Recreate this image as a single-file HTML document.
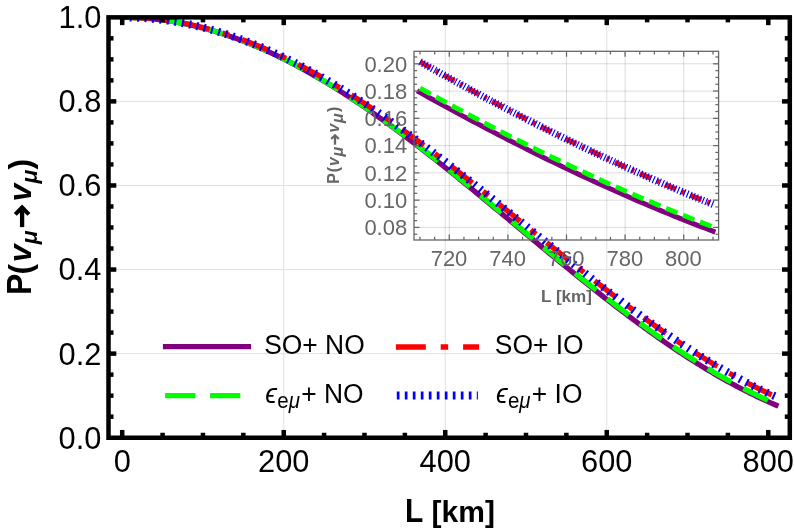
<!DOCTYPE html><html><head><meta charset="utf-8"><style>html,body{margin:0;padding:0;background:#fff}svg{display:block;will-change:transform}text{font-family:"Liberation Sans",sans-serif}</style></head><body>
<svg width="794" height="529" viewBox="0 0 794 529">
<rect width="794" height="529" fill="#fff"/>
<defs><clipPath id="mc"><rect x="108.50" y="17.35" width="681.30" height="420.40"/></clipPath>
<clipPath id="ic"><rect x="414.00" y="51.30" width="304.60" height="188.70"/></clipPath></defs>
<g stroke="#e0e0e0" stroke-width="1" fill="none">
<line x1="283.72" y1="17.35" x2="283.72" y2="437.75"/>
<line x1="445.24" y1="17.35" x2="445.24" y2="437.75"/>
<line x1="606.76" y1="17.35" x2="606.76" y2="437.75"/>
<line x1="108.50" y1="353.62" x2="789.80" y2="353.62"/>
<line x1="108.50" y1="269.54" x2="789.80" y2="269.54"/>
<line x1="108.50" y1="185.46" x2="789.80" y2="185.46"/>
<line x1="108.50" y1="101.38" x2="789.80" y2="101.38"/>
</g>
<g fill="none" clip-path="url(#mc)">
<path d="M122.20 17.30 L124.39 17.31 L126.59 17.33 L128.78 17.37 L130.98 17.43 L133.17 17.50 L135.37 17.59 L137.56 17.69 L139.76 17.81 L141.95 17.95 L144.15 18.10 L146.34 18.26 L148.54 18.45 L150.73 18.65 L152.93 18.86 L155.12 19.09 L157.32 19.34 L159.51 19.60 L161.71 19.88 L163.90 20.17 L166.10 20.48 L168.29 20.81 L170.49 21.15 L172.68 21.51 L174.88 21.88 L177.07 22.27 L179.27 22.67 L181.46 23.09 L183.66 23.52 L185.85 23.97 L188.05 24.44 L190.24 24.92 L192.43 25.42 L194.63 25.93 L196.82 26.46 L199.02 27.00 L201.21 27.56 L203.41 28.13 L205.60 28.72 L207.80 29.32 L209.99 29.94 L212.19 30.57 L214.38 31.22 L216.58 31.88 L218.77 32.56 L220.97 33.25 L223.16 33.96 L225.36 34.68 L227.55 35.42 L229.75 36.17 L231.94 36.93 L234.14 37.71 L236.33 38.51 L238.53 39.31 L240.72 40.14 L242.92 40.97 L245.11 41.83 L247.31 42.69 L249.50 43.57 L251.70 44.46 L253.89 45.37 L256.08 46.29 L258.28 47.23 L260.47 48.18 L262.67 49.14 L264.86 50.11 L267.06 51.10 L269.25 52.10 L271.45 53.12 L273.64 54.15 L275.84 55.19 L278.03 56.25 L280.23 57.31 L282.42 58.39 L284.62 59.49 L286.81 60.59 L289.01 61.71 L291.20 62.85 L293.40 63.99 L295.59 65.15 L297.79 66.31 L299.98 67.50 L302.18 68.69 L304.37 69.89 L306.57 71.11 L308.76 72.34 L310.96 73.58 L313.15 74.83 L315.35 76.10 L317.54 77.37 L319.74 78.66 L321.93 79.96 L324.12 81.27 L326.32 82.59 L328.51 83.92 L330.71 85.26 L332.90 86.61 L335.10 87.98 L337.29 89.35 L339.49 90.73 L341.68 92.13 L343.88 93.53 L346.07 94.95 L348.27 96.37 L350.46 97.81 L352.66 99.25 L354.85 100.71 L357.05 102.17 L359.24 103.65 L361.44 105.13 L363.63 106.62 L365.83 108.12 L368.02 109.63 L370.22 111.15 L372.41 112.68 L374.61 114.22 L376.80 115.76 L379.00 117.31 L381.19 118.88 L383.39 120.45 L385.58 122.02 L387.78 123.61 L389.97 125.20 L392.16 126.81 L394.36 128.42 L396.55 130.03 L398.75 131.66 L400.94 133.29 L403.14 134.93 L405.33 136.57 L407.53 138.22 L409.72 139.88 L411.92 141.55 L414.11 143.22 L416.31 144.90 L418.50 146.58 L420.70 148.27 L422.89 149.97 L425.09 151.67 L427.28 153.38 L429.48 155.09 L431.67 156.81 L433.87 158.53 L436.06 160.26 L438.26 162.00 L440.45 163.73 L442.65 165.48 L444.84 167.23 L447.04 168.98 L449.23 170.74 L451.43 172.50 L453.62 174.26 L455.81 176.03 L458.01 177.81 L460.20 179.58 L462.40 181.36 L464.59 183.15 L466.79 184.93 L468.98 186.72 L471.18 188.52 L473.37 190.31 L475.57 192.11 L477.76 193.91 L479.96 195.72 L482.15 197.52 L484.35 199.33 L486.54 201.14 L488.74 202.95 L490.93 204.77 L493.13 206.58 L495.32 208.40 L497.52 210.22 L499.71 212.04 L501.91 213.86 L504.10 215.68 L506.30 217.50 L508.49 219.33 L510.69 221.15 L512.88 222.97 L515.08 224.80 L517.27 226.62 L519.47 228.44 L521.66 230.27 L523.85 232.09 L526.05 233.91 L528.24 235.74 L530.44 237.56 L532.63 239.38 L534.83 241.20 L537.02 243.02 L539.22 244.83 L541.41 246.65 L543.61 248.46 L545.80 250.28 L548.00 252.09 L550.19 253.89 L552.39 255.70 L554.58 257.51 L556.78 259.31 L558.97 261.11 L561.17 262.90 L563.36 264.70 L565.56 266.49 L567.75 268.27 L569.95 270.06 L572.14 271.84 L574.34 273.62 L576.53 275.39 L578.73 277.16 L580.92 278.92 L583.12 280.69 L585.31 282.44 L587.51 284.20 L589.70 285.95 L591.89 287.69 L594.09 289.43 L596.28 291.16 L598.48 292.89 L600.67 294.62 L602.87 296.34 L605.06 298.05 L607.26 299.76 L609.45 301.46 L611.65 303.16 L613.84 304.85 L616.04 306.53 L618.23 308.21 L620.43 309.88 L622.62 311.55 L624.82 313.21 L627.01 314.86 L629.21 316.51 L631.40 318.15 L633.60 319.78 L635.79 321.40 L637.99 323.02 L640.18 324.63 L642.38 326.23 L644.57 327.83 L646.77 329.41 L648.96 330.99 L651.16 332.56 L653.35 334.13 L655.54 335.68 L657.74 337.23 L659.93 338.76 L662.13 340.29 L664.32 341.81 L666.52 343.32 L668.71 344.82 L670.91 346.32 L673.10 347.80 L675.30 349.28 L677.49 350.74 L679.69 352.20 L681.88 353.64 L684.08 355.08 L686.27 356.50 L688.47 357.92 L690.66 359.33 L692.86 360.72 L695.05 362.11 L697.25 363.48 L699.44 364.85 L701.64 366.20 L703.83 367.54 L706.03 368.87 L708.22 370.20 L710.42 371.51 L712.61 372.81 L714.81 374.09 L717.00 375.37 L719.20 376.63 L721.39 377.89 L723.58 379.13 L725.78 380.36 L727.97 381.58 L730.17 382.78 L732.36 383.98 L734.56 385.16 L736.75 386.33 L738.95 387.49 L741.14 388.63 L743.34 389.77 L745.53 390.89 L747.73 391.99 L749.92 393.09 L752.12 394.17 L754.31 395.24 L756.51 396.30 L758.70 397.34 L760.90 398.37 L763.09 399.39 L765.29 400.39 L767.48 401.38 L769.68 402.36 L771.87 403.32 L774.07 404.27 L776.26 405.20 L778.46 406.13" stroke="#800080" stroke-width="5.3"/>
<path d="M122.20 17.30 L124.39 17.31 L126.58 17.33 L128.76 17.37 L130.95 17.43 L133.14 17.50 L135.33 17.58 L137.51 17.69 L139.70 17.80 L141.89 17.94 L144.08 18.09 L146.27 18.25 L148.45 18.43 L150.64 18.63 L152.83 18.84 L155.02 19.07 L157.21 19.32 L159.39 19.58 L161.58 19.85 L163.77 20.14 L165.96 20.45 L168.14 20.77 L170.33 21.11 L172.52 21.46 L174.71 21.83 L176.90 22.21 L179.08 22.61 L181.27 23.02 L183.46 23.45 L185.65 23.90 L187.83 24.36 L190.02 24.83 L192.21 25.32 L194.40 25.83 L196.59 26.35 L198.77 26.89 L200.96 27.44 L203.15 28.00 L205.34 28.59 L207.52 29.18 L209.71 29.79 L211.90 30.42 L214.09 31.06 L216.28 31.71 L218.46 32.38 L220.65 33.07 L222.84 33.77 L225.03 34.48 L227.22 35.21 L229.40 35.95 L231.59 36.71 L233.78 37.48 L235.97 38.27 L238.15 39.06 L240.34 39.88 L242.53 40.71 L244.72 41.55 L246.91 42.40 L249.09 43.27 L251.28 44.16 L253.47 45.05 L255.66 45.96 L257.84 46.89 L260.03 47.83 L262.22 48.78 L264.41 49.74 L266.60 50.72 L268.78 51.71 L270.97 52.72 L273.16 53.73 L275.35 54.77 L277.53 55.81 L279.72 56.87 L281.91 57.93 L284.10 59.02 L286.29 60.11 L288.47 61.22 L290.66 62.34 L292.85 63.47 L295.04 64.61 L297.23 65.77 L299.41 66.94 L301.60 68.12 L303.79 69.31 L305.98 70.51 L308.16 71.73 L310.35 72.96 L312.54 74.20 L314.73 75.45 L316.92 76.71 L319.10 77.98 L321.29 79.27 L323.48 80.56 L325.67 81.87 L327.85 83.19 L330.04 84.51 L332.23 85.85 L334.42 87.20 L336.61 88.56 L338.79 89.93 L340.98 91.31 L343.17 92.70 L345.36 94.10 L347.54 95.51 L349.73 96.93 L351.92 98.36 L354.11 99.80 L356.30 101.25 L358.48 102.71 L360.67 104.18 L362.86 105.66 L365.05 107.14 L367.24 108.64 L369.42 110.14 L371.61 111.65 L373.80 113.18 L375.99 114.71 L378.17 116.24 L380.36 117.79 L382.55 119.34 L384.74 120.91 L386.93 122.48 L389.11 124.06 L391.30 125.64 L393.49 127.24 L395.68 128.84 L397.86 130.45 L400.05 132.06 L402.24 133.68 L404.43 135.31 L406.62 136.95 L408.80 138.59 L410.99 140.24 L413.18 141.90 L415.37 143.56 L417.55 145.23 L419.74 146.90 L421.93 148.59 L424.12 150.27 L426.31 151.96 L428.49 153.66 L430.68 155.36 L432.87 157.07 L435.06 158.79 L437.25 160.51 L439.43 162.23 L441.62 163.96 L443.81 165.69 L446.00 167.43 L448.18 169.17 L450.37 170.92 L452.56 172.67 L454.75 174.42 L456.94 176.18 L459.12 177.94 L461.31 179.71 L463.50 181.48 L465.69 183.25 L467.87 185.02 L470.06 186.80 L472.25 188.58 L474.44 190.37 L476.63 192.15 L478.81 193.94 L481.00 195.74 L483.19 197.53 L485.38 199.33 L487.56 201.12 L489.75 202.92 L491.94 204.72 L494.13 206.53 L496.32 208.33 L498.50 210.14 L500.69 211.94 L502.88 213.75 L505.07 215.56 L507.26 217.37 L509.44 219.18 L511.63 220.99 L513.82 222.80 L516.01 224.61 L518.19 226.43 L520.38 228.24 L522.57 230.05 L524.76 231.86 L526.95 233.67 L529.13 235.48 L531.32 237.29 L533.51 239.09 L535.70 240.90 L537.88 242.71 L540.07 244.51 L542.26 246.31 L544.45 248.11 L546.64 249.91 L548.82 251.71 L551.01 253.51 L553.20 255.30 L555.39 257.09 L557.57 258.88 L559.76 260.67 L561.95 262.45 L564.14 264.23 L566.33 266.01 L568.51 267.78 L570.70 269.55 L572.89 271.32 L575.08 273.09 L577.27 274.85 L579.45 276.60 L581.64 278.36 L583.83 280.11 L586.02 281.85 L588.20 283.59 L590.39 285.33 L592.58 287.06 L594.77 288.79 L596.96 290.51 L599.14 292.23 L601.33 293.94 L603.52 295.64 L605.71 297.35 L607.89 299.04 L610.08 300.73 L612.27 302.42 L614.46 304.10 L616.65 305.77 L618.83 307.44 L621.02 309.10 L623.21 310.75 L625.40 312.40 L627.58 314.04 L629.77 315.68 L631.96 317.30 L634.15 318.92 L636.34 320.54 L638.52 322.14 L640.71 323.74 L642.90 325.33 L645.09 326.92 L647.28 328.49 L649.46 330.06 L651.65 331.62 L653.84 333.18 L656.03 334.72 L658.21 336.26 L660.40 337.78 L662.59 339.30 L664.78 340.81 L666.97 342.31 L669.15 343.81 L671.34 345.29 L673.53 346.76 L675.72 348.23 L677.90 349.69 L680.09 351.13 L682.28 352.57 L684.47 354.00 L686.66 355.41 L688.84 356.82 L691.03 358.22 L693.22 359.61 L695.41 360.98 L697.59 362.35 L699.78 363.71 L701.97 365.05 L704.16 366.39 L706.35 367.72 L708.53 369.03 L710.72 370.33 L712.91 371.62 L715.10 372.91 L717.29 374.18 L719.47 375.43 L721.66 376.68 L723.85 377.92 L726.04 379.14 L728.22 380.35 L730.41 381.55 L732.60 382.74 L734.79 383.92 L736.98 385.09 L739.16 386.24 L741.35 387.38 L743.54 388.51 L745.73 389.62 L747.91 390.73 L750.10 391.82 L752.29 392.90 L754.48 393.96 L756.67 395.01 L758.85 396.05 L761.04 397.08 L763.23 398.09 L765.42 399.10 L767.60 400.08 L769.79 401.06 L771.98 402.02 L774.17 402.97 L776.36 403.90" stroke="#00ff00" stroke-width="5.3" stroke-dasharray="27.23 13.61" stroke-dashoffset="0"/>
<path d="M122.20 17.30 L124.39 17.31 L126.58 17.33 L128.76 17.37 L130.95 17.42 L133.14 17.49 L135.33 17.57 L137.51 17.67 L139.70 17.78 L141.89 17.91 L144.08 18.06 L146.27 18.22 L148.45 18.39 L150.64 18.58 L152.83 18.78 L155.02 19.00 L157.21 19.24 L159.39 19.48 L161.58 19.75 L163.77 20.03 L165.96 20.32 L168.14 20.63 L170.33 20.95 L172.52 21.29 L174.71 21.65 L176.90 22.01 L179.08 22.40 L181.27 22.80 L183.46 23.21 L185.65 23.64 L187.83 24.08 L190.02 24.53 L192.21 25.01 L194.40 25.49 L196.59 25.99 L198.77 26.51 L200.96 27.04 L203.15 27.58 L205.34 28.14 L207.52 28.71 L209.71 29.30 L211.90 29.90 L214.09 30.51 L216.28 31.14 L218.46 31.79 L220.65 32.45 L222.84 33.12 L225.03 33.80 L227.22 34.50 L229.40 35.22 L231.59 35.94 L233.78 36.69 L235.97 37.44 L238.15 38.21 L240.34 38.99 L242.53 39.79 L244.72 40.60 L246.91 41.42 L249.09 42.26 L251.28 43.10 L253.47 43.97 L255.66 44.84 L257.84 45.73 L260.03 46.63 L262.22 47.55 L264.41 48.48 L266.60 49.42 L268.78 50.37 L270.97 51.34 L273.16 52.32 L275.35 53.31 L277.53 54.31 L279.72 55.33 L281.91 56.36 L284.10 57.40 L286.29 58.45 L288.47 59.52 L290.66 60.60 L292.85 61.69 L295.04 62.79 L297.23 63.90 L299.41 65.03 L301.60 66.16 L303.79 67.31 L305.98 68.47 L308.16 69.64 L310.35 70.83 L312.54 72.02 L314.73 73.22 L316.92 74.44 L319.10 75.67 L321.29 76.90 L323.48 78.15 L325.67 79.41 L327.85 80.68 L330.04 81.96 L332.23 83.25 L334.42 84.55 L336.61 85.87 L338.79 87.19 L340.98 88.52 L343.17 89.86 L345.36 91.21 L347.54 92.57 L349.73 93.94 L351.92 95.32 L354.11 96.71 L356.30 98.11 L358.48 99.52 L360.67 100.94 L362.86 102.36 L365.05 103.80 L367.24 105.24 L369.42 106.69 L371.61 108.16 L373.80 109.63 L375.99 111.10 L378.17 112.59 L380.36 114.09 L382.55 115.59 L384.74 117.10 L386.93 118.62 L389.11 120.14 L391.30 121.68 L393.49 123.22 L395.68 124.77 L397.86 126.32 L400.05 127.89 L402.24 129.46 L404.43 131.03 L406.62 132.62 L408.80 134.21 L410.99 135.81 L413.18 137.41 L415.37 139.02 L417.55 140.64 L419.74 142.26 L421.93 143.89 L424.12 145.52 L426.31 147.16 L428.49 148.81 L430.68 150.46 L432.87 152.12 L435.06 153.78 L437.25 155.45 L439.43 157.12 L441.62 158.80 L443.81 160.48 L446.00 162.16 L448.18 163.86 L450.37 165.55 L452.56 167.25 L454.75 168.95 L456.94 170.66 L459.12 172.37 L461.31 174.09 L463.50 175.81 L465.69 177.53 L467.87 179.26 L470.06 180.99 L472.25 182.72 L474.44 184.46 L476.63 186.20 L478.81 187.94 L481.00 189.68 L483.19 191.43 L485.38 193.18 L487.56 194.93 L489.75 196.68 L491.94 198.44 L494.13 200.20 L496.32 201.96 L498.50 203.72 L500.69 205.48 L502.88 207.24 L505.07 209.01 L507.26 210.78 L509.44 212.54 L511.63 214.31 L513.82 216.08 L516.01 217.85 L518.19 219.62 L520.38 221.39 L522.57 223.16 L524.76 224.93 L526.95 226.70 L529.13 228.47 L531.32 230.24 L533.51 232.01 L535.70 233.78 L537.88 235.55 L540.07 237.32 L542.26 239.08 L544.45 240.85 L546.64 242.61 L548.82 244.37 L551.01 246.14 L553.20 247.90 L555.39 249.65 L557.57 251.41 L559.76 253.16 L561.95 254.92 L564.14 256.67 L566.33 258.41 L568.51 260.16 L570.70 261.90 L572.89 263.64 L575.08 265.38 L577.27 267.11 L579.45 268.84 L581.64 270.57 L583.83 272.29 L586.02 274.01 L588.20 275.73 L590.39 277.44 L592.58 279.15 L594.77 280.86 L596.96 282.56 L599.14 284.25 L601.33 285.95 L603.52 287.64 L605.71 289.32 L607.89 291.00 L610.08 292.67 L612.27 294.34 L614.46 296.00 L616.65 297.66 L618.83 299.31 L621.02 300.96 L623.21 302.60 L625.40 304.24 L627.58 305.87 L629.77 307.49 L631.96 309.11 L634.15 310.72 L636.34 312.33 L638.52 313.93 L640.71 315.52 L642.90 317.11 L645.09 318.68 L647.28 320.26 L649.46 321.82 L651.65 323.38 L653.84 324.93 L656.03 326.47 L658.21 328.01 L660.40 329.54 L662.59 331.06 L664.78 332.57 L666.97 334.08 L669.15 335.57 L671.34 337.06 L673.53 338.54 L675.72 340.01 L677.90 341.48 L680.09 342.93 L682.28 344.38 L684.47 345.82 L686.66 347.25 L688.84 348.67 L691.03 350.08 L693.22 351.48 L695.41 352.87 L697.59 354.25 L699.78 355.63 L701.97 356.99 L704.16 358.34 L706.35 359.69 L708.53 361.02 L710.72 362.34 L712.91 363.66 L715.10 364.96 L717.29 366.26 L719.47 367.54 L721.66 368.81 L723.85 370.07 L726.04 371.33 L728.22 372.57 L730.41 373.80 L732.60 375.01 L734.79 376.22 L736.98 377.42 L739.16 378.60 L741.35 379.78 L743.54 380.94 L745.73 382.09 L747.91 383.23 L750.10 384.36 L752.29 385.48 L754.48 386.58 L756.67 387.68 L758.85 388.76 L761.04 389.82 L763.23 390.88 L765.42 391.93 L767.60 392.96 L769.79 393.98 L771.98 394.99 L774.17 395.98 L776.36 396.96" stroke="#ff0000" stroke-width="5.3" stroke-dasharray="27.24 13.62 6.81 13.62" stroke-dashoffset="0"/>
<path d="M122.20 17.30 L124.39 17.31 L126.58 17.33 L128.76 17.37 L130.95 17.42 L133.14 17.49 L135.33 17.57 L137.51 17.67 L139.70 17.78 L141.89 17.91 L144.08 18.06 L146.27 18.22 L148.45 18.39 L150.64 18.58 L152.83 18.78 L155.02 19.00 L157.21 19.24 L159.39 19.48 L161.58 19.75 L163.77 20.03 L165.96 20.32 L168.14 20.63 L170.33 20.95 L172.52 21.29 L174.71 21.65 L176.90 22.01 L179.08 22.40 L181.27 22.80 L183.46 23.21 L185.65 23.64 L187.83 24.08 L190.02 24.53 L192.21 25.01 L194.40 25.49 L196.59 25.99 L198.77 26.51 L200.96 27.04 L203.15 27.58 L205.34 28.14 L207.52 28.71 L209.71 29.30 L211.90 29.90 L214.09 30.51 L216.28 31.14 L218.46 31.79 L220.65 32.45 L222.84 33.12 L225.03 33.80 L227.22 34.50 L229.40 35.22 L231.59 35.94 L233.78 36.69 L235.97 37.44 L238.15 38.21 L240.34 38.99 L242.53 39.79 L244.72 40.60 L246.91 41.42 L249.09 42.26 L251.28 43.10 L253.47 43.97 L255.66 44.84 L257.84 45.73 L260.03 46.63 L262.22 47.55 L264.41 48.48 L266.60 49.42 L268.78 50.37 L270.97 51.34 L273.16 52.32 L275.35 53.31 L277.53 54.31 L279.72 55.33 L281.91 56.36 L284.10 57.40 L286.29 58.45 L288.47 59.52 L290.66 60.60 L292.85 61.69 L295.04 62.79 L297.23 63.90 L299.41 65.03 L301.60 66.16 L303.79 67.31 L305.98 68.47 L308.16 69.64 L310.35 70.83 L312.54 72.02 L314.73 73.22 L316.92 74.44 L319.10 75.67 L321.29 76.90 L323.48 78.15 L325.67 79.41 L327.85 80.68 L330.04 81.96 L332.23 83.25 L334.42 84.55 L336.61 85.87 L338.79 87.19 L340.98 88.52 L343.17 89.86 L345.36 91.21 L347.54 92.57 L349.73 93.94 L351.92 95.32 L354.11 96.71 L356.30 98.11 L358.48 99.52 L360.67 100.94 L362.86 102.36 L365.05 103.80 L367.24 105.24 L369.42 106.69 L371.61 108.16 L373.80 109.63 L375.99 111.10 L378.17 112.59 L380.36 114.09 L382.55 115.59 L384.74 117.10 L386.93 118.62 L389.11 120.14 L391.30 121.68 L393.49 123.22 L395.68 124.77 L397.86 126.32 L400.05 127.89 L402.24 129.46 L404.43 131.03 L406.62 132.62 L408.80 134.21 L410.99 135.81 L413.18 137.41 L415.37 139.02 L417.55 140.64 L419.74 142.26 L421.93 143.89 L424.12 145.52 L426.31 147.16 L428.49 148.81 L430.68 150.46 L432.87 152.12 L435.06 153.78 L437.25 155.45 L439.43 157.12 L441.62 158.80 L443.81 160.48 L446.00 162.16 L448.18 163.86 L450.37 165.55 L452.56 167.25 L454.75 168.95 L456.94 170.66 L459.12 172.37 L461.31 174.09 L463.50 175.81 L465.69 177.53 L467.87 179.26 L470.06 180.99 L472.25 182.72 L474.44 184.46 L476.63 186.20 L478.81 187.94 L481.00 189.68 L483.19 191.43 L485.38 193.18 L487.56 194.93 L489.75 196.68 L491.94 198.44 L494.13 200.20 L496.32 201.96 L498.50 203.72 L500.69 205.48 L502.88 207.24 L505.07 209.01 L507.26 210.78 L509.44 212.54 L511.63 214.31 L513.82 216.08 L516.01 217.85 L518.19 219.62 L520.38 221.39 L522.57 223.16 L524.76 224.93 L526.95 226.70 L529.13 228.47 L531.32 230.24 L533.51 232.01 L535.70 233.78 L537.88 235.55 L540.07 237.32 L542.26 239.08 L544.45 240.85 L546.64 242.61 L548.82 244.37 L551.01 246.14 L553.20 247.90 L555.39 249.65 L557.57 251.41 L559.76 253.16 L561.95 254.92 L564.14 256.67 L566.33 258.41 L568.51 260.16 L570.70 261.90 L572.89 263.64 L575.08 265.38 L577.27 267.11 L579.45 268.84 L581.64 270.57 L583.83 272.29 L586.02 274.01 L588.20 275.73 L590.39 277.44 L592.58 279.15 L594.77 280.86 L596.96 282.56 L599.14 284.25 L601.33 285.95 L603.52 287.64 L605.71 289.32 L607.89 291.00 L610.08 292.67 L612.27 294.34 L614.46 296.00 L616.65 297.66 L618.83 299.31 L621.02 300.96 L623.21 302.60 L625.40 304.24 L627.58 305.87 L629.77 307.49 L631.96 309.11 L634.15 310.72 L636.34 312.33 L638.52 313.93 L640.71 315.52 L642.90 317.11 L645.09 318.68 L647.28 320.26 L649.46 321.82 L651.65 323.38 L653.84 324.93 L656.03 326.47 L658.21 328.01 L660.40 329.54 L662.59 331.06 L664.78 332.57 L666.97 334.08 L669.15 335.57 L671.34 337.06 L673.53 338.54 L675.72 340.01 L677.90 341.48 L680.09 342.93 L682.28 344.38 L684.47 345.82 L686.66 347.25 L688.84 348.67 L691.03 350.08 L693.22 351.48 L695.41 352.87 L697.59 354.25 L699.78 355.63 L701.97 356.99 L704.16 358.34 L706.35 359.69 L708.53 361.02 L710.72 362.34 L712.91 363.66 L715.10 364.96 L717.29 366.26 L719.47 367.54 L721.66 368.81 L723.85 370.07 L726.04 371.33 L728.22 372.57 L730.41 373.80 L732.60 375.01 L734.79 376.22 L736.98 377.42 L739.16 378.60 L741.35 379.78 L743.54 380.94 L745.73 382.09 L747.91 383.23 L750.10 384.36 L752.29 385.48 L754.48 386.58 L756.67 387.68 L758.85 388.76 L761.04 389.82 L763.23 390.88 L765.42 391.93 L767.60 392.96 L769.79 393.98 L771.98 394.99 L774.17 395.98 L776.36 396.96" stroke="#0000ff" stroke-width="8.0" stroke-dasharray="2.05 5.44" stroke-dashoffset="0"/>
</g>
<g stroke="#000" stroke-width="4.5" fill="none">
<rect x="108.50" y="17.35" width="681.30" height="420.40"/>
<line x1="122.20" y1="437.75" x2="122.20" y2="429.95"/>
<line x1="122.20" y1="17.35" x2="122.20" y2="25.15"/>
<line x1="162.58" y1="437.75" x2="162.58" y2="432.75"/>
<line x1="162.58" y1="17.35" x2="162.58" y2="22.35"/>
<line x1="202.96" y1="437.75" x2="202.96" y2="432.75"/>
<line x1="202.96" y1="17.35" x2="202.96" y2="22.35"/>
<line x1="243.34" y1="437.75" x2="243.34" y2="432.75"/>
<line x1="243.34" y1="17.35" x2="243.34" y2="22.35"/>
<line x1="283.72" y1="437.75" x2="283.72" y2="429.95"/>
<line x1="283.72" y1="17.35" x2="283.72" y2="25.15"/>
<line x1="324.10" y1="437.75" x2="324.10" y2="432.75"/>
<line x1="324.10" y1="17.35" x2="324.10" y2="22.35"/>
<line x1="364.48" y1="437.75" x2="364.48" y2="432.75"/>
<line x1="364.48" y1="17.35" x2="364.48" y2="22.35"/>
<line x1="404.86" y1="437.75" x2="404.86" y2="432.75"/>
<line x1="404.86" y1="17.35" x2="404.86" y2="22.35"/>
<line x1="445.24" y1="437.75" x2="445.24" y2="429.95"/>
<line x1="445.24" y1="17.35" x2="445.24" y2="25.15"/>
<line x1="485.62" y1="437.75" x2="485.62" y2="432.75"/>
<line x1="485.62" y1="17.35" x2="485.62" y2="22.35"/>
<line x1="526.00" y1="437.75" x2="526.00" y2="432.75"/>
<line x1="526.00" y1="17.35" x2="526.00" y2="22.35"/>
<line x1="566.38" y1="437.75" x2="566.38" y2="432.75"/>
<line x1="566.38" y1="17.35" x2="566.38" y2="22.35"/>
<line x1="606.76" y1="437.75" x2="606.76" y2="429.95"/>
<line x1="606.76" y1="17.35" x2="606.76" y2="25.15"/>
<line x1="647.14" y1="437.75" x2="647.14" y2="432.75"/>
<line x1="647.14" y1="17.35" x2="647.14" y2="22.35"/>
<line x1="687.52" y1="437.75" x2="687.52" y2="432.75"/>
<line x1="687.52" y1="17.35" x2="687.52" y2="22.35"/>
<line x1="727.90" y1="437.75" x2="727.90" y2="432.75"/>
<line x1="727.90" y1="17.35" x2="727.90" y2="22.35"/>
<line x1="768.28" y1="437.75" x2="768.28" y2="429.95"/>
<line x1="768.28" y1="17.35" x2="768.28" y2="25.15"/>
<line x1="108.50" y1="416.68" x2="113.50" y2="416.68"/>
<line x1="789.80" y1="416.68" x2="784.80" y2="416.68"/>
<line x1="108.50" y1="395.66" x2="113.50" y2="395.66"/>
<line x1="789.80" y1="395.66" x2="784.80" y2="395.66"/>
<line x1="108.50" y1="374.64" x2="113.50" y2="374.64"/>
<line x1="789.80" y1="374.64" x2="784.80" y2="374.64"/>
<line x1="108.50" y1="353.62" x2="116.30" y2="353.62"/>
<line x1="789.80" y1="353.62" x2="782.00" y2="353.62"/>
<line x1="108.50" y1="332.60" x2="113.50" y2="332.60"/>
<line x1="789.80" y1="332.60" x2="784.80" y2="332.60"/>
<line x1="108.50" y1="311.58" x2="113.50" y2="311.58"/>
<line x1="789.80" y1="311.58" x2="784.80" y2="311.58"/>
<line x1="108.50" y1="290.56" x2="113.50" y2="290.56"/>
<line x1="789.80" y1="290.56" x2="784.80" y2="290.56"/>
<line x1="108.50" y1="269.54" x2="116.30" y2="269.54"/>
<line x1="789.80" y1="269.54" x2="782.00" y2="269.54"/>
<line x1="108.50" y1="248.52" x2="113.50" y2="248.52"/>
<line x1="789.80" y1="248.52" x2="784.80" y2="248.52"/>
<line x1="108.50" y1="227.50" x2="113.50" y2="227.50"/>
<line x1="789.80" y1="227.50" x2="784.80" y2="227.50"/>
<line x1="108.50" y1="206.48" x2="113.50" y2="206.48"/>
<line x1="789.80" y1="206.48" x2="784.80" y2="206.48"/>
<line x1="108.50" y1="185.46" x2="116.30" y2="185.46"/>
<line x1="789.80" y1="185.46" x2="782.00" y2="185.46"/>
<line x1="108.50" y1="164.44" x2="113.50" y2="164.44"/>
<line x1="789.80" y1="164.44" x2="784.80" y2="164.44"/>
<line x1="108.50" y1="143.42" x2="113.50" y2="143.42"/>
<line x1="789.80" y1="143.42" x2="784.80" y2="143.42"/>
<line x1="108.50" y1="122.40" x2="113.50" y2="122.40"/>
<line x1="789.80" y1="122.40" x2="784.80" y2="122.40"/>
<line x1="108.50" y1="101.38" x2="116.30" y2="101.38"/>
<line x1="789.80" y1="101.38" x2="782.00" y2="101.38"/>
<line x1="108.50" y1="80.36" x2="113.50" y2="80.36"/>
<line x1="789.80" y1="80.36" x2="784.80" y2="80.36"/>
<line x1="108.50" y1="59.34" x2="113.50" y2="59.34"/>
<line x1="789.80" y1="59.34" x2="784.80" y2="59.34"/>
<line x1="108.50" y1="38.32" x2="113.50" y2="38.32"/>
<line x1="789.80" y1="38.32" x2="784.80" y2="38.32"/>
</g>
<g font-size="30.8" fill="#000">
<text x="101.4" y="448.60" text-anchor="end">0.0</text>
<text x="101.4" y="364.52" text-anchor="end">0.2</text>
<text x="101.4" y="280.44" text-anchor="end">0.4</text>
<text x="101.4" y="196.36" text-anchor="end">0.6</text>
<text x="101.4" y="112.28" text-anchor="end">0.8</text>
<text x="101.4" y="28.20" text-anchor="end">1.0</text>
<text x="122.20" y="472.2" text-anchor="middle">0</text>
<text x="283.72" y="472.2" text-anchor="middle">200</text>
<text x="445.24" y="472.2" text-anchor="middle">400</text>
<text x="606.76" y="472.2" text-anchor="middle">600</text>
<text x="768.28" y="472.2" text-anchor="middle">800</text>
</g>
<text transform="translate(404.9,522) scale(1,1.09)" font-size="30" font-weight="bold">L</text>
<text x="431.6" y="522" font-size="30" font-weight="bold">[km]</text>
<g transform="translate(30.50,292.8) rotate(-90)">
<g transform="scale(1,1.075)"><text x="-2.20" y="0.00" font-size="32.0" font-weight="bold">P</text></g>
<text x="18.30" y="0.00" font-size="32.0" font-weight="bold">(</text>
<text x="30.50" y="0.00" font-size="32.0" font-weight="bold" font-style="italic">v</text>
<text x="48.60" y="6.00" font-size="23.0" font-weight="bold" font-style="italic">μ</text>
<text x="91.30" y="0.00" font-size="32.0" font-weight="bold" font-style="italic">v</text>
<text x="109.40" y="6.00" font-size="23.0" font-weight="bold" font-style="italic">μ</text>
<text x="123.30" y="0.00" font-size="32.0" font-weight="bold">)</text>
<path d="M65.7 -8.4H83.5" stroke="#000" stroke-width="4.3" fill="none"/>
<path d="M78.4 -15.2L85.3 -8.4L78.4 -1.6" stroke="#000" stroke-width="4.2" fill="none" stroke-linejoin="miter"/>
</g>
<g stroke="#000" stroke-opacity="0.14" stroke-width="1" fill="none">
<line x1="449.30" y1="51.30" x2="449.30" y2="240.00"/>
<line x1="507.90" y1="51.30" x2="507.90" y2="240.00"/>
<line x1="566.50" y1="51.30" x2="566.50" y2="240.00"/>
<line x1="625.10" y1="51.30" x2="625.10" y2="240.00"/>
<line x1="683.70" y1="51.30" x2="683.70" y2="240.00"/>
<line x1="414.00" y1="227.42" x2="718.60" y2="227.42"/>
<line x1="414.00" y1="200.15" x2="718.60" y2="200.15"/>
<line x1="414.00" y1="172.88" x2="718.60" y2="172.88"/>
<line x1="414.00" y1="145.61" x2="718.60" y2="145.61"/>
<line x1="414.00" y1="118.34" x2="718.60" y2="118.34"/>
<line x1="414.00" y1="91.07" x2="718.60" y2="91.07"/>
<line x1="414.00" y1="63.80" x2="718.60" y2="63.80"/>
</g>
<g fill="none" clip-path="url(#ic)">
<path d="M417.07 90.79 L422.13 93.62 L427.18 96.45 L432.24 99.26 L437.29 102.06 L442.35 104.84 L447.40 107.61 L452.46 110.36 L457.51 113.10 L462.57 115.83 L467.62 118.54 L472.68 121.23 L477.74 123.91 L482.79 126.58 L487.85 129.24 L492.90 131.87 L497.96 134.50 L503.01 137.10 L508.07 139.70 L513.12 142.27 L518.18 144.84 L523.24 147.38 L528.29 149.92 L533.35 152.43 L538.40 154.93 L543.46 157.42 L548.51 159.89 L553.57 162.34 L558.62 164.78 L563.68 167.20 L568.73 169.61 L573.79 172.00 L578.85 174.37 L583.90 176.73 L588.96 179.07 L594.01 181.40 L599.07 183.71 L604.12 186.00 L609.18 188.28 L614.23 190.54 L619.29 192.78 L624.35 195.00 L629.40 197.21 L634.46 199.40 L639.51 201.58 L644.57 203.74 L649.62 205.88 L654.68 208.00 L659.73 210.11 L664.79 212.20 L669.84 214.27 L674.90 216.32 L679.96 218.36 L685.01 220.38 L690.07 222.38 L695.12 224.36 L700.18 226.33 L705.23 228.28 L710.29 230.21 L715.34 232.12" stroke="#800080" stroke-width="5.0"/>
<path d="M420.00 88.07 L424.97 90.85 L429.93 93.61 L434.90 96.36 L439.86 99.10 L444.83 101.82 L449.80 104.53 L454.76 107.23 L459.73 109.91 L464.69 112.58 L469.66 115.23 L474.63 117.87 L479.59 120.50 L484.56 123.11 L489.53 125.71 L494.49 128.30 L499.46 130.87 L504.42 133.42 L509.39 135.96 L514.36 138.49 L519.32 141.00 L524.29 143.50 L529.25 145.99 L534.22 148.45 L539.19 150.91 L544.15 153.35 L549.12 155.77 L554.08 158.18 L559.05 160.57 L564.02 162.95 L568.98 165.31 L573.95 167.66 L578.92 169.99 L583.88 172.31 L588.85 174.61 L593.81 176.89 L598.78 179.16 L603.75 181.42 L608.71 183.66 L613.68 185.88 L618.64 188.08 L623.61 190.27 L628.58 192.45 L633.54 194.60 L638.51 196.75 L643.47 198.87 L648.44 200.98 L653.41 203.07 L658.37 205.15 L663.34 207.21 L668.31 209.25 L673.27 211.28 L678.24 213.28 L683.20 215.28 L688.17 217.25 L693.14 219.21 L698.10 221.15 L703.07 223.08 L708.03 224.98 L713.00 226.87" stroke="#00ff00" stroke-width="5.0" stroke-dasharray="12.18 6.09"/>
<path d="M420.00 61.75 L424.97 64.56 L429.93 67.36 L434.90 70.14 L439.86 72.91 L444.83 75.67 L449.80 78.42 L454.76 81.15 L459.73 83.87 L464.69 86.58 L469.66 89.28 L474.63 91.96 L479.59 94.63 L484.56 97.29 L489.53 99.94 L494.49 102.57 L499.46 105.19 L504.42 107.79 L509.39 110.39 L514.36 112.97 L519.32 115.53 L524.29 118.08 L529.25 120.62 L534.22 123.15 L539.19 125.66 L544.15 128.16 L549.12 130.64 L554.08 133.11 L559.05 135.56 L564.02 138.01 L568.98 140.43 L573.95 142.85 L578.92 145.25 L583.88 147.63 L588.85 150.00 L593.81 152.36 L598.78 154.70 L603.75 157.02 L608.71 159.33 L613.68 161.63 L618.64 163.91 L623.61 166.18 L628.58 168.43 L633.54 170.67 L638.51 172.89 L643.47 175.10 L648.44 177.29 L653.41 179.47 L658.37 181.63 L663.34 183.78 L668.31 185.91 L673.27 188.02 L678.24 190.12 L683.20 192.21 L688.17 194.27 L693.14 196.33 L698.10 198.36 L703.07 200.38 L708.03 202.39 L713.00 204.38" stroke="#ff0000" stroke-width="5.0" stroke-dasharray="12.18 6.09 3.05 6.09"/>
<path d="M420.00 61.75 L424.97 64.56 L429.93 67.36 L434.90 70.14 L439.86 72.91 L444.83 75.67 L449.80 78.42 L454.76 81.15 L459.73 83.87 L464.69 86.58 L469.66 89.28 L474.63 91.96 L479.59 94.63 L484.56 97.29 L489.53 99.94 L494.49 102.57 L499.46 105.19 L504.42 107.79 L509.39 110.39 L514.36 112.97 L519.32 115.53 L524.29 118.08 L529.25 120.62 L534.22 123.15 L539.19 125.66 L544.15 128.16 L549.12 130.64 L554.08 133.11 L559.05 135.56 L564.02 138.01 L568.98 140.43 L573.95 142.85 L578.92 145.25 L583.88 147.63 L588.85 150.00 L593.81 152.36 L598.78 154.70 L603.75 157.02 L608.71 159.33 L613.68 161.63 L618.64 163.91 L623.61 166.18 L628.58 168.43 L633.54 170.67 L638.51 172.89 L643.47 175.10 L648.44 177.29 L653.41 179.47 L658.37 181.63 L663.34 183.78 L668.31 185.91 L673.27 188.02 L678.24 190.12 L683.20 192.21 L688.17 194.27 L693.14 196.33 L698.10 198.36 L703.07 200.38 L708.03 202.39 L713.00 204.38" stroke="#0000ff" stroke-width="7.5" stroke-dasharray="1.15 2.2"/>
</g>
<g stroke="#666666" stroke-width="1.3" fill="none">
<rect x="414.00" y="51.30" width="304.60" height="188.70"/>
</g><g stroke="#666666" stroke-width="1.25" fill="none">
<line x1="420.00" y1="240.00" x2="420.00" y2="236.80"/>
<line x1="420.00" y1="51.30" x2="420.00" y2="54.50"/>
<line x1="434.65" y1="240.00" x2="434.65" y2="236.80"/>
<line x1="434.65" y1="51.30" x2="434.65" y2="54.50"/>
<line x1="449.30" y1="240.00" x2="449.30" y2="234.50"/>
<line x1="449.30" y1="51.30" x2="449.30" y2="56.80"/>
<line x1="463.95" y1="240.00" x2="463.95" y2="236.80"/>
<line x1="463.95" y1="51.30" x2="463.95" y2="54.50"/>
<line x1="478.60" y1="240.00" x2="478.60" y2="236.80"/>
<line x1="478.60" y1="51.30" x2="478.60" y2="54.50"/>
<line x1="493.25" y1="240.00" x2="493.25" y2="236.80"/>
<line x1="493.25" y1="51.30" x2="493.25" y2="54.50"/>
<line x1="507.90" y1="240.00" x2="507.90" y2="234.50"/>
<line x1="507.90" y1="51.30" x2="507.90" y2="56.80"/>
<line x1="522.55" y1="240.00" x2="522.55" y2="236.80"/>
<line x1="522.55" y1="51.30" x2="522.55" y2="54.50"/>
<line x1="537.20" y1="240.00" x2="537.20" y2="236.80"/>
<line x1="537.20" y1="51.30" x2="537.20" y2="54.50"/>
<line x1="551.85" y1="240.00" x2="551.85" y2="236.80"/>
<line x1="551.85" y1="51.30" x2="551.85" y2="54.50"/>
<line x1="566.50" y1="240.00" x2="566.50" y2="234.50"/>
<line x1="566.50" y1="51.30" x2="566.50" y2="56.80"/>
<line x1="581.15" y1="240.00" x2="581.15" y2="236.80"/>
<line x1="581.15" y1="51.30" x2="581.15" y2="54.50"/>
<line x1="595.80" y1="240.00" x2="595.80" y2="236.80"/>
<line x1="595.80" y1="51.30" x2="595.80" y2="54.50"/>
<line x1="610.45" y1="240.00" x2="610.45" y2="236.80"/>
<line x1="610.45" y1="51.30" x2="610.45" y2="54.50"/>
<line x1="625.10" y1="240.00" x2="625.10" y2="234.50"/>
<line x1="625.10" y1="51.30" x2="625.10" y2="56.80"/>
<line x1="639.75" y1="240.00" x2="639.75" y2="236.80"/>
<line x1="639.75" y1="51.30" x2="639.75" y2="54.50"/>
<line x1="654.40" y1="240.00" x2="654.40" y2="236.80"/>
<line x1="654.40" y1="51.30" x2="654.40" y2="54.50"/>
<line x1="669.05" y1="240.00" x2="669.05" y2="236.80"/>
<line x1="669.05" y1="51.30" x2="669.05" y2="54.50"/>
<line x1="683.70" y1="240.00" x2="683.70" y2="234.50"/>
<line x1="683.70" y1="51.30" x2="683.70" y2="56.80"/>
<line x1="698.35" y1="240.00" x2="698.35" y2="236.80"/>
<line x1="698.35" y1="51.30" x2="698.35" y2="54.50"/>
<line x1="713.00" y1="240.00" x2="713.00" y2="236.80"/>
<line x1="713.00" y1="51.30" x2="713.00" y2="54.50"/>
<line x1="414.00" y1="234.24" x2="417.20" y2="234.24"/>
<line x1="718.60" y1="234.24" x2="715.40" y2="234.24"/>
<line x1="414.00" y1="227.42" x2="419.50" y2="227.42"/>
<line x1="718.60" y1="227.42" x2="713.10" y2="227.42"/>
<line x1="414.00" y1="220.60" x2="417.20" y2="220.60"/>
<line x1="718.60" y1="220.60" x2="715.40" y2="220.60"/>
<line x1="414.00" y1="213.79" x2="417.20" y2="213.79"/>
<line x1="718.60" y1="213.79" x2="715.40" y2="213.79"/>
<line x1="414.00" y1="206.97" x2="417.20" y2="206.97"/>
<line x1="718.60" y1="206.97" x2="715.40" y2="206.97"/>
<line x1="414.00" y1="200.15" x2="419.50" y2="200.15"/>
<line x1="718.60" y1="200.15" x2="713.10" y2="200.15"/>
<line x1="414.00" y1="193.33" x2="417.20" y2="193.33"/>
<line x1="718.60" y1="193.33" x2="715.40" y2="193.33"/>
<line x1="414.00" y1="186.51" x2="417.20" y2="186.51"/>
<line x1="718.60" y1="186.51" x2="715.40" y2="186.51"/>
<line x1="414.00" y1="179.70" x2="417.20" y2="179.70"/>
<line x1="718.60" y1="179.70" x2="715.40" y2="179.70"/>
<line x1="414.00" y1="172.88" x2="419.50" y2="172.88"/>
<line x1="718.60" y1="172.88" x2="713.10" y2="172.88"/>
<line x1="414.00" y1="166.06" x2="417.20" y2="166.06"/>
<line x1="718.60" y1="166.06" x2="715.40" y2="166.06"/>
<line x1="414.00" y1="159.25" x2="417.20" y2="159.25"/>
<line x1="718.60" y1="159.25" x2="715.40" y2="159.25"/>
<line x1="414.00" y1="152.43" x2="417.20" y2="152.43"/>
<line x1="718.60" y1="152.43" x2="715.40" y2="152.43"/>
<line x1="414.00" y1="145.61" x2="419.50" y2="145.61"/>
<line x1="718.60" y1="145.61" x2="713.10" y2="145.61"/>
<line x1="414.00" y1="138.79" x2="417.20" y2="138.79"/>
<line x1="718.60" y1="138.79" x2="715.40" y2="138.79"/>
<line x1="414.00" y1="131.98" x2="417.20" y2="131.98"/>
<line x1="718.60" y1="131.98" x2="715.40" y2="131.98"/>
<line x1="414.00" y1="125.16" x2="417.20" y2="125.16"/>
<line x1="718.60" y1="125.16" x2="715.40" y2="125.16"/>
<line x1="414.00" y1="118.34" x2="419.50" y2="118.34"/>
<line x1="718.60" y1="118.34" x2="713.10" y2="118.34"/>
<line x1="414.00" y1="111.52" x2="417.20" y2="111.52"/>
<line x1="718.60" y1="111.52" x2="715.40" y2="111.52"/>
<line x1="414.00" y1="104.70" x2="417.20" y2="104.70"/>
<line x1="718.60" y1="104.70" x2="715.40" y2="104.70"/>
<line x1="414.00" y1="97.89" x2="417.20" y2="97.89"/>
<line x1="718.60" y1="97.89" x2="715.40" y2="97.89"/>
<line x1="414.00" y1="91.07" x2="419.50" y2="91.07"/>
<line x1="718.60" y1="91.07" x2="713.10" y2="91.07"/>
<line x1="414.00" y1="84.25" x2="417.20" y2="84.25"/>
<line x1="718.60" y1="84.25" x2="715.40" y2="84.25"/>
<line x1="414.00" y1="77.44" x2="417.20" y2="77.44"/>
<line x1="718.60" y1="77.44" x2="715.40" y2="77.44"/>
<line x1="414.00" y1="70.62" x2="417.20" y2="70.62"/>
<line x1="718.60" y1="70.62" x2="715.40" y2="70.62"/>
<line x1="414.00" y1="63.80" x2="419.50" y2="63.80"/>
<line x1="718.60" y1="63.80" x2="713.10" y2="63.80"/>
<line x1="414.00" y1="56.98" x2="417.20" y2="56.98"/>
<line x1="718.60" y1="56.98" x2="715.40" y2="56.98"/>
</g>
<g font-size="22" fill="#666666">
<text transform="translate(407.2,235.12) scale(1,1.035)" text-anchor="end">0.08</text>
<text transform="translate(407.2,207.85) scale(1,1.035)" text-anchor="end">0.10</text>
<text transform="translate(407.2,180.58) scale(1,1.035)" text-anchor="end">0.12</text>
<text transform="translate(407.2,153.31) scale(1,1.035)" text-anchor="end">0.14</text>
<text transform="translate(407.2,126.04) scale(1,1.035)" text-anchor="end">0.16</text>
<text transform="translate(407.2,98.77) scale(1,1.035)" text-anchor="end">0.18</text>
<text transform="translate(407.2,71.50) scale(1,1.035)" text-anchor="end">0.20</text>
<text transform="translate(449.00,266.2) scale(1,1.03)" text-anchor="middle">720</text>
<text transform="translate(507.60,266.2) scale(1,1.03)" text-anchor="middle">740</text>
<text transform="translate(566.20,266.2) scale(1,1.03)" text-anchor="middle">760</text>
<text transform="translate(624.80,266.2) scale(1,1.03)" text-anchor="middle">780</text>
<text transform="translate(683.40,266.2) scale(1,1.03)" text-anchor="middle">800</text>
</g>
<text x="566.5" y="301.5" text-anchor="middle" font-size="17.1" font-weight="bold" fill="#666666">L [km]</text>
<g transform="translate(339.1,182.6) rotate(-90)" fill="#666666">
<g transform="scale(1,1.04)"><text x="-1.10" y="0.00" font-size="16.0" font-weight="bold">P</text></g>
<text x="10.40" y="0.00" font-size="16.0" font-weight="bold">(</text>
<text x="16.50" y="0.00" font-size="16.0" font-weight="bold" font-style="italic">v</text>
<text x="26.00" y="4.30" font-size="16.0" font-weight="bold" font-style="italic">μ</text>
<text x="50.10" y="0.00" font-size="16.0" font-weight="bold" font-style="italic">v</text>
<text x="59.60" y="4.30" font-size="16.0" font-weight="bold" font-style="italic">μ</text>
<text x="70.60" y="0.00" font-size="16.0" font-weight="bold">)</text>
<path d="M37.9 -4.1H46.5" stroke="#666666" stroke-width="2.3" fill="none"/>
<path d="M43.6 -7.9L47.4 -4.1L43.6 -0.3" stroke="#666666" stroke-width="2.2" fill="none" stroke-linejoin="miter"/>
</g>
<g fill="none">
<line x1="162.9" y1="346.7" x2="251.1" y2="346.7" stroke="#800080" stroke-width="5.3"/>
<path d="M165.1 395.6H195.5M210.1 395.6H240.3" stroke="#00ff00" stroke-width="5.1"/>
<path d="M395.9 346.9H425.8M440.7 346.9H448.2M463.1 346.9H479.1" stroke="#ff0000" stroke-width="5.5"/>
<line x1="396.8" y1="395.6" x2="477.9" y2="395.6" stroke="#0000ff" stroke-width="8" stroke-dasharray="2.7 5.3"/>
</g>
<g font-size="26.4" fill="#000">
<text transform="translate(264.20,353.70) scale(1,1.045)" >SO+ NO</text>
<text transform="translate(494.80,353.70) scale(1,1.045)" >SO+ IO</text>
<text transform="translate(265.30,403.40) scale(1,1.045)" font-style="italic">ϵ</text><text transform="translate(277.30,407.60) scale(1,1.045)" font-size="20.5">e<tspan font-style="italic">μ</tspan></text><text transform="translate(301.20,403.40) scale(1,1.045)" >+ NO</text>
<text transform="translate(495.90,403.40) scale(1,1.045)" font-style="italic">ϵ</text><text transform="translate(507.90,407.60) scale(1,1.045)" font-size="20.5">e<tspan font-style="italic">μ</tspan></text><text transform="translate(531.80,403.40) scale(1,1.045)" >+ IO</text>
</g>
</svg></body></html>
